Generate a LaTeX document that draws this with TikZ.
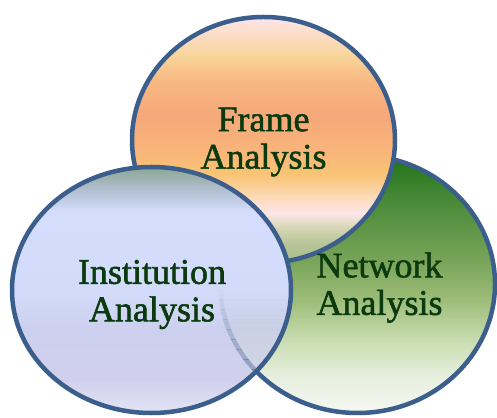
\documentclass[tikz,border=0pt]{standalone}
\usepackage{fontspec}
\setmainfont{Liberation Serif}
\newfontfamily\labelfont[FakeBold=1.5]{Liberation Serif}

% border and label colours
\definecolor{rimblue}{HTML}{3B5E8C}
\definecolor{labelgreen}{HTML}{0B3A0F}

% vertical gradients (0bp = bottom, 100bp = top; 25..75bp spans the shape)
\pgfdeclareverticalshading{frameshade}{100bp}{%
  color(0bp)=(rgb,255:red,168;green,190;blue,136);
  color(25bp)=(rgb,255:red,168;green,190;blue,136);
  color(29bp)=(rgb,255:red,184;green,196;blue,152);
  color(32.4bp)=(rgb,255:red,216;green,216;blue,184);
  color(35bp)=(rgb,255:red,253;green,230;blue,234);
  color(38bp)=(rgb,255:red,252;green,220;blue,192);
  color(43bp)=(rgb,255:red,249;green,196;blue,116);
  color(48bp)=(rgb,255:red,248;green,180;blue,122);
  color(55bp)=(rgb,255:red,246;green,168;blue,122);
  color(62bp)=(rgb,255:red,248;green,184;blue,130);
  color(67bp)=(rgb,255:red,249;green,212;blue,152);
  color(71bp)=(rgb,255:red,251;green,220;blue,192);
  color(75bp)=(rgb,255:red,253;green,230;blue,234);
  color(100bp)=(rgb,255:red,253;green,230;blue,234)}

\pgfdeclareverticalshading{instshade}{100bp}{%
  color(0bp)=(rgb,255:red,226;green,228;blue,244);
  color(25bp)=(rgb,255:red,226;green,228;blue,244);
  color(32bp)=(rgb,255:red,208;green,208;blue,236);
  color(42bp)=(rgb,255:red,204;green,208;blue,238);
  color(50bp)=(rgb,255:red,210;green,220;blue,250);
  color(66bp)=(rgb,255:red,212;green,221;blue,251);
  color(70.5bp)=(rgb,255:red,176;green,190;blue,206);
  color(75bp)=(rgb,255:red,140;green,166;blue,148);
  color(100bp)=(rgb,255:red,140;green,166;blue,148)}

\pgfdeclareverticalshading{netshade}{100bp}{%
  color(0bp)=(rgb,255:red,244;green,248;blue,242);
  color(25bp)=(rgb,255:red,244;green,248;blue,242);
  color(31.7bp)=(rgb,255:red,232;green,240;blue,224);
  color(39.3bp)=(rgb,255:red,200;green,220;blue,176);
  color(47bp)=(rgb,255:red,156;green,188;blue,120);
  color(54.6bp)=(rgb,255:red,120;green,164;blue,88);
  color(66bp)=(rgb,255:red,74;green,138;blue,56);
  color(75bp)=(rgb,255:red,31;green,115;blue,24);
  color(100bp)=(rgb,255:red,31;green,115;blue,24)}

\tikzset{
  rim/.style={draw=rimblue, line width=4.5pt},
  label/.style={text=labelgreen, align=center,
    font=\labelfont\fontsize{36}{37.5}\selectfont, inner sep=0pt},
  netdisc/.style={insert path={(357.5,133) ellipse [x radius=137.5, y radius=129]}},
  framedisc/.style={insert path={(263.5,277) ellipse [x radius=131.5, y radius=123]}},
  instdisc/.style={insert path={(151.5,127) ellipse [x radius=139.5, y radius=123]}}
}

\begin{document}
\begin{tikzpicture}[x=1pt,y=1pt]
  \useasboundingbox (0,0) rectangle (497,417);

  % network analysis (bottom layer)
  \shade[shading=netshade, netdisc];
  \draw[rim, netdisc];

  % frame analysis
  \shade[shading=frameshade, framedisc];
  \draw[rim, framedisc];

  % institution analysis (top layer)
  \shade[shading=instshade, instdisc];

  % lower half of the institution disc is see-through: the network disc
  % and its rim show through more and more towards the bottom
  \foreach \i in {0,...,12} {
    \pgfmathsetmacro\op{0.35*(\i+0.5)/13}
    \pgfmathsetmacro\rimop{0.7*(\i+0.5)/13}
    \begin{scope}
      \clip[instdisc];
      \clip (0,{127-\i*10}) rectangle (497,{127-(\i+1)*10});
      \shade[shading=netshade, netdisc, opacity=\op];
      \draw[rim, netdisc, draw opacity=\rimop];
    \end{scope}
  }
  \draw[rim, instdisc];

  \node[label] (frame) at (263.5,275) {Frame\\Analysis};
  \node[label] (network) at (379.5,129.5) {Network\\Analysis};
  \node[label] (institution) at (152,122.5) {Institution\\Analysis};
\end{tikzpicture}
\end{document}
